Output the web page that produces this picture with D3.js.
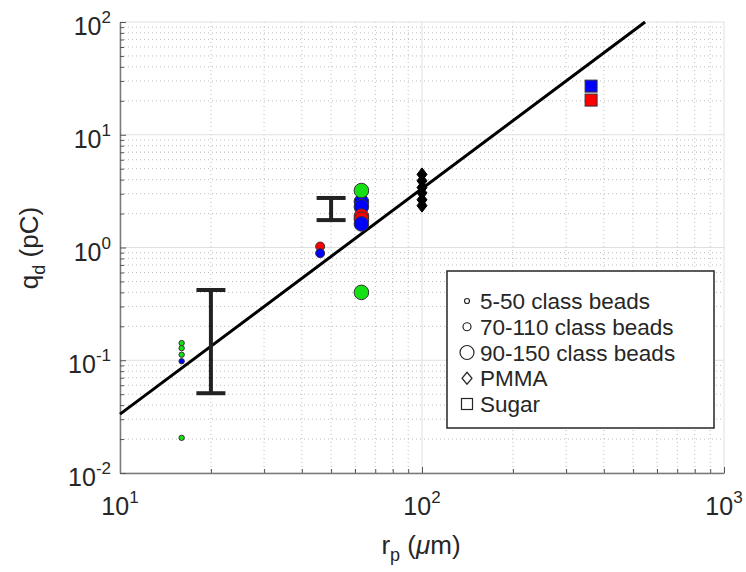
<!DOCTYPE html>
<html>
<head>
<meta charset="utf-8">
<script src="https://cdn.jsdelivr.net/npm/d3@7"></script>
<style>
  body { margin: 0; background: #fff; }
  text { font-family: "Liberation Sans", Arial, sans-serif; fill: #262626; }
</style>
</head>
<body>
<div id="chart"></div>
<script>
// data
const xTicks = [10, 100, 1000];
const yTicks = [0.01, 0.1, 1, 10, 100];

// 5-50 class beads (small circles)
const smallR = [16, 16, 16, 16, 16];
const smallQ = [0.142, 0.128, 0.112, 0.098, 0.0205];
const smallC = ['g', 'g', 'g', 'b', 'g'];

// 70-110 class beads (medium circles)
const medR = [46, 46];
const medQ = [1.02, 0.89];
const medC = ['r', 'b'];

// 90-150 class beads (large circles)
const bigR = [63, 63, 63, 63, 63, 63, 63];
const bigQ = [2.55, 2.3, 3.2, 1.9, 1.78, 1.62, 0.40];
const bigC = ['b', 'b', 'g', 'r', 'r', 'b', 'g'];

// PMMA (diamonds)
const pmmaR = [100, 100, 100, 100, 100, 100];
const pmmaQ = [4.45, 3.9, 3.4, 3.05, 2.65, 2.35];

// Sugar (squares)
const sugarR = [363, 363];
const sugarQ = [27, 20.3];
const sugarC = ['b', 'r'];

// error bars
const errR = [20, 50];
const errLo = [0.051, 1.75];
const errHi = [0.42, 2.75];

// fit line q = k r^2
const fitK = 3.33e-4;
const fitR = [10, 548];

const legendLabels = ['5-50 class beads', '70-110 class beads', '90-150 class beads', 'PMMA', 'Sugar'];

const colors = { g: '#14e014', b: '#0000ff', r: '#ff0000' };

const W = 746, H = 572;
const m = { left: 120, right: 724, top: 22, bottom: 473 };

const svg = d3.select('#chart').append('svg').attr('width', W).attr('height', H);

const x = d3.scaleLog().domain([10, 1000]).range([m.left, m.right]);
const y = d3.scaleLog().domain([0.01, 100]).range([m.bottom, m.top]);

// grid
let minorX = [], minorY = [];
for (let d = 10; d < 1000; d *= 10) for (let k = 2; k < 10; k++) minorX.push(d * k);
for (let d = 0.01; d < 100; d *= 10) for (let k = 2; k < 10; k++) minorY.push(d * k);

const grid = svg.append('g');
grid.selectAll('.mx').data(minorX).enter().append('line')
  .attr('x1', d => x(d)).attr('x2', d => x(d)).attr('y1', m.top).attr('y2', m.bottom)
  .attr('stroke', '#bdbdbd').attr('stroke-dasharray', '1,3');
grid.selectAll('.my').data(minorY).enter().append('line')
  .attr('y1', d => y(d)).attr('y2', d => y(d)).attr('x1', m.left).attr('x2', m.right)
  .attr('stroke', '#bdbdbd').attr('stroke-dasharray', '1,3');
grid.selectAll('.Mx').data(xTicks).enter().append('line')
  .attr('x1', d => x(d)).attr('x2', d => x(d)).attr('y1', m.top).attr('y2', m.bottom)
  .attr('stroke', '#e0e0e0');
grid.selectAll('.My').data(yTicks).enter().append('line')
  .attr('y1', d => y(d)).attr('y2', d => y(d)).attr('x1', m.left).attr('x2', m.right)
  .attr('stroke', '#e0e0e0');

// axes
const xAxis = d3.axisBottom(x).tickValues(xTicks.concat(minorX)).tickFormat('').tickSizeOuter(0)
  .tickSizeInner(-4);
const yAxis = d3.axisLeft(y).tickValues(yTicks.concat(minorY)).tickFormat('').tickSizeOuter(0)
  .tickSizeInner(-4);
const gx = svg.append('g').attr('transform', `translate(0,${m.bottom})`).call(xAxis);
const gy = svg.append('g').attr('transform', `translate(${m.left},0)`).call(yAxis);
[gx, gy].forEach(g => {
  g.select('.domain').attr('stroke', '#7a7a7a').attr('stroke-width', 1.5);
  g.selectAll('.tick line').attr('stroke', '#555');
});
gx.selectAll('.tick line').filter(d => xTicks.includes(d)).attr('y2', -6);
gy.selectAll('.tick line').filter(d => yTicks.includes(d)).attr('x2', 6);

// tick labels
svg.selectAll('.xl').data(xTicks).enter().append('text')
  .attr('x', d => x(d)).attr('y', 515).attr('text-anchor', 'middle').attr('font-size', 25)
  .each(function (d) {
    const t = d3.select(this);
    t.append('tspan').text('10');
    t.append('tspan').attr('font-size', 17).attr('dy', -12).text(Math.round(Math.log10(d)));
  });
svg.selectAll('.yl').data(yTicks).enter().append('text')
  .attr('x', 111).attr('y', d => y(d) + 13).attr('text-anchor', 'end').attr('font-size', 25)
  .each(function (d) {
    const t = d3.select(this);
    t.append('tspan').text('10');
    t.append('tspan').attr('font-size', 17).attr('dy', -12).text(Math.round(Math.log10(d)));
  });

// axis titles
const xt = svg.append('text').attr('x', 421).attr('y', 554).attr('text-anchor', 'middle').attr('font-size', 26);
xt.append('tspan').text('r');
xt.append('tspan').attr('font-size', 18).attr('dy', 7).text('p');
xt.append('tspan').attr('dy', -7).text(' (');
xt.append('tspan').attr('font-style', 'italic').text('\u03bc');
xt.append('tspan').text('m)');

const yt = svg.append('text').attr('transform', 'translate(38,248) rotate(-90)').attr('text-anchor', 'middle').attr('font-size', 26);
yt.append('tspan').text('q');
yt.append('tspan').attr('font-size', 18).attr('dy', 7).text('d');
yt.append('tspan').attr('dy', -7).text(' (pC)');

// fit line
svg.append('path')
  .datum(fitR)
  .attr('d', d3.line().x(d => x(d)).y(d => y(fitK * d * d)))
  .attr('stroke', '#000').attr('stroke-width', 3).attr('fill', 'none');

// error bars
const eb = svg.append('g').attr('stroke', '#222').attr('stroke-width', 4);
errR.forEach((r, i) => {
  eb.append('line').attr('x1', x(r)).attr('x2', x(r)).attr('y1', y(errLo[i])).attr('y2', y(errHi[i]));
  [errLo[i], errHi[i]].forEach(v => {
    eb.append('line').attr('x1', x(r) - 14.5).attr('x2', x(r) + 14.5).attr('y1', y(v)).attr('y2', y(v));
  });
});

// circles
function circles(rs, qs, cs, rad) {
  svg.append('g').selectAll('circle').data(rs).enter().append('circle')
    .attr('cx', d => x(d)).attr('cy', (d, i) => y(qs[i])).attr('r', rad)
    .attr('fill', (d, i) => colors[cs[i]]).attr('stroke', '#333').attr('stroke-width', 1);
}
circles(smallR, smallQ, smallC, 2.7);
circles(medR, medQ, medC, 4.5);
circles(bigR, bigQ, bigC, 7.3);

// diamonds
svg.append('g').selectAll('path').data(pmmaR).enter().append('path')
  .attr('d', 'M0,-6.5L5,0L0,6.5L-5,0Z')
  .attr('transform', (d, i) => `translate(${x(d)},${y(pmmaQ[i])})`)
  .attr('fill', '#000').attr('stroke', '#000');

// squares
svg.append('g').selectAll('rect').data(sugarR).enter().append('rect')
  .attr('x', d => x(d) - 6).attr('y', (d, i) => y(sugarQ[i]) - 6).attr('width', 12).attr('height', 12)
  .attr('fill', (d, i) => colors[sugarC[i]]).attr('stroke', '#333');

// legend
const lg = svg.append('g');
lg.append('rect').attr('x', 447).attr('y', 271).attr('width', 267).attr('height', 157)
  .attr('fill', '#fff').attr('stroke', '#262626').attr('stroke-width', 1.5);
const rowY = d3.scalePoint().domain(legendLabels).range([301, 404]);
legendLabels.forEach((lab, i) => {
  const cy = rowY(lab), cx = 467;
  if (i === 0) lg.append('circle').attr('cx', cx).attr('cy', cy).attr('r', 2.5);
  if (i === 1) lg.append('circle').attr('cx', cx).attr('cy', cy).attr('r', 4);
  if (i === 2) lg.append('circle').attr('cx', cx).attr('cy', cy).attr('r', 7);
  if (i === 3) lg.append('path').attr('d', `M${cx},${cy - 6}L${cx + 5},${cy}L${cx},${cy + 6}L${cx - 5},${cy}Z`);
  if (i === 4) lg.append('rect').attr('x', cx - 5.5).attr('y', cy - 5.5).attr('width', 11).attr('height', 11);
  lg.append('text').attr('x', 480).attr('y', cy + 8).attr('font-size', 22.5).text(lab);
});
lg.selectAll('circle, path, rect:not(:first-child)').attr('fill', '#fff').attr('stroke', '#262626').attr('stroke-width', 1.2);
</script>
</body>
</html>
